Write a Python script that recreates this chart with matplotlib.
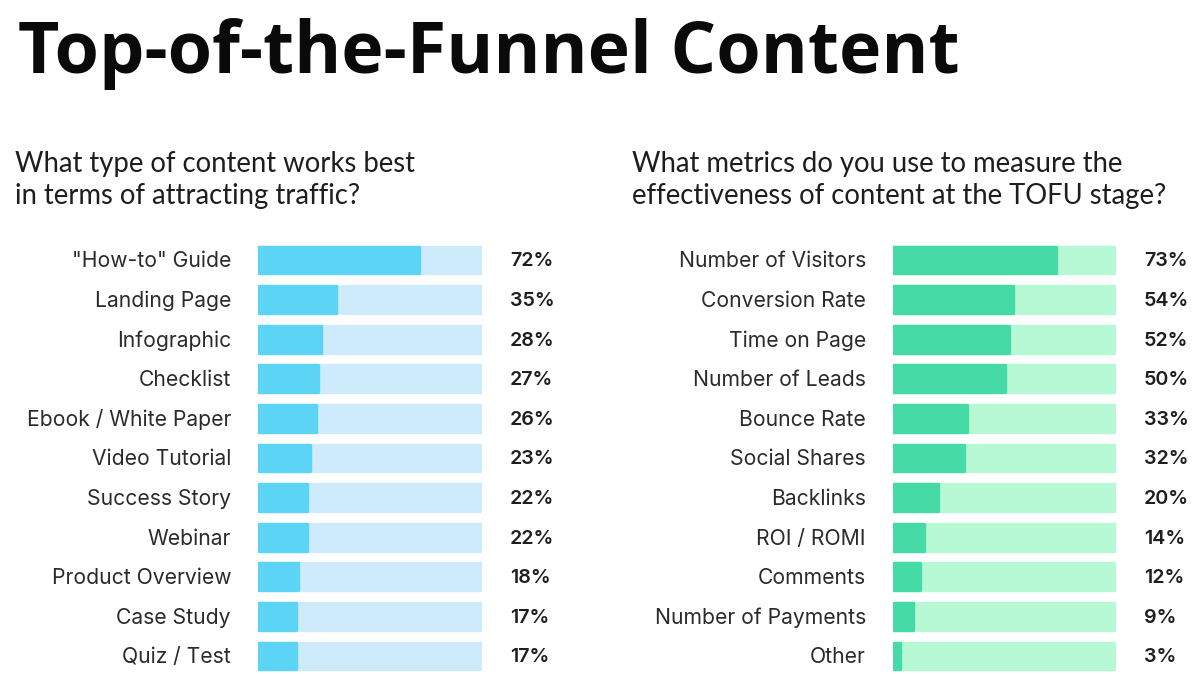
import matplotlib
matplotlib.use("Agg")
import matplotlib.pyplot as plt

# ---------------- data ----------------
title = "Top-of-the-Funnel Content"
left_question = "What type of content works best\nin terms of attracting traffic?"
left_labels = ['"How-to" Guide', "Landing Page", "Infographic", "Checklist",
               "Ebook / White Paper", "Video Tutorial", "Success Story", "Webinar",
               "Product Overview", "Case Study", "Quiz / Test"]
left_values = [72, 35, 28, 27, 26, 23, 22, 22, 18, 17, 17]

right_question = "What metrics do you use to measure the\neffectiveness of content at the TOFU stage?"
right_labels = ["Number of Visitors", "Conversion Rate", "Time on Page", "Number of Leads",
                "Bounce Rate", "Social Shares", "Backlinks", "ROI / ROMI", "Comments",
                "Number of Payments", "Other"]
right_values = [73, 54, 52, 50, 33, 32, 20, 14, 12, 9, 3]

# ---------------- style ----------------
W, H = 1200, 674
fig = plt.figure(figsize=(W / 100, H / 100), dpi=100)
fig.patch.set_facecolor("white")

def px_axes(x0, x1, ytop, ybot):
    return [x0 / W, 1 - ybot / H, (x1 - x0) / W, (ybot - ytop) / H]

def panel(rect, labels, values, fill, bg):
    ax = fig.add_axes(rect)
    n = len(labels)
    ys = list(range(n))
    h = 0.68
    bgb = ax.barh(ys, [100] * n, height=h, color=bg, edgecolor=bg, linewidth=2.4)
    fgb = ax.barh(ys, values, height=h, color=fill, edgecolor=fill, linewidth=2.4)
    for b in list(bgb) + list(fgb):
        b.set_joinstyle("round")
    ax.set_xlim(0, 100)
    ax.set_ylim(10.455, -0.5)
    ax.axis("off")
    for y, lab, v in zip(ys, labels, values):
        ax.annotate(lab, xy=(0, y), xytext=(-27 * 0.72, -1), textcoords="offset points",
                    ha="right", va="center", fontsize=15.2, color="#2b2b2b",
                    family="Inter", annotation_clip=False)
        ax.annotate(f"{v}%", xy=(100, y), xytext=(28 * 0.72, -1), textcoords="offset points",
                    ha="left", va="center", fontsize=14.2, color="#1e1e1e",
                    family="Inter", fontweight="semibold", annotation_clip=False)
    return ax

panel(px_axes(258, 482, 240.2, 674), left_labels, left_values, "#5cd4f6", "#cdebfb")
panel(px_axes(893, 1116, 240.2, 674), right_labels, right_values, "#46dba6", "#b7f8d5")

# title: fit to the reference width (x 18 -> 960 px)
t = fig.text(18 / W, 1 - 54 / H, title, ha="left", va="center", fontsize=50,
             fontweight="bold", family="Open Sans", color="#0a0a0a")
fig.canvas.draw()
r = fig.canvas.get_renderer()
w = t.get_window_extent(r).width
t.set_fontsize(50 * 942 / w)

for x, q in [(15, left_question), (632, right_question)]:
    fig.text(x / W, 1 - 180 / H, q, ha="left", va="center", fontsize=19.8,
             family="Lato", color="#1e1e1e", linespacing=1.32)

fig.savefig("out.png", dpi=100, facecolor="white")
